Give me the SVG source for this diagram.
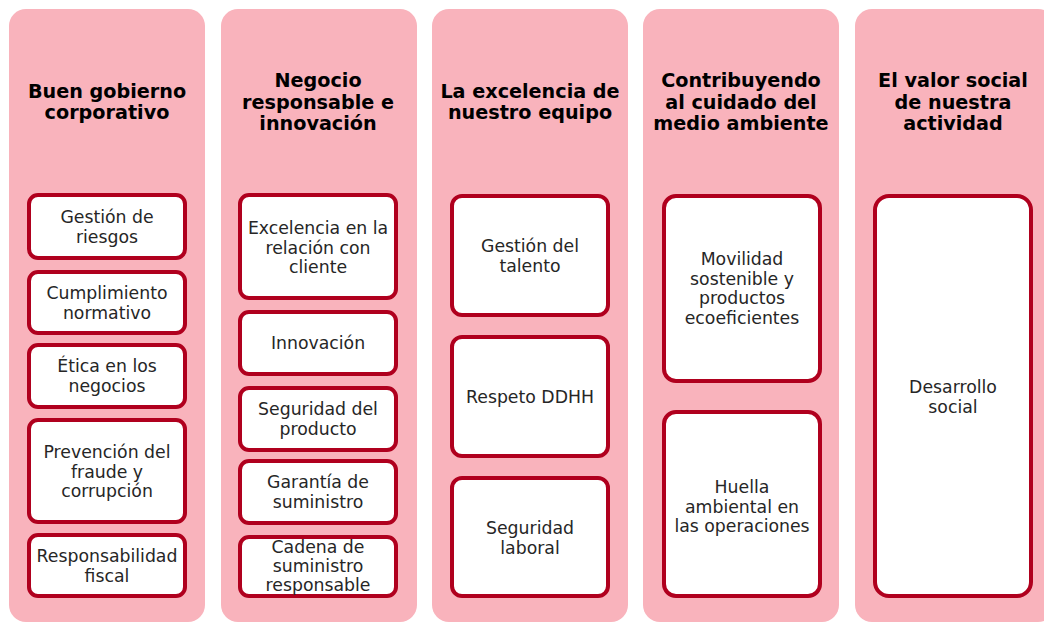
<svg xmlns="http://www.w3.org/2000/svg" width="1044" height="623" viewBox="0 0 1044 623">
<style>
.col{fill:#f9b3bc;}
.box{fill:#ffffff;stroke:#b0001e;stroke-width:4;}
.title{font-family:"DejaVu Sans",Verdana,sans-serif;font-weight:bold;font-size:19.2px;fill:#000000;text-anchor:middle;}
.lbl{font-family:"DejaVu Sans",Verdana,sans-serif;font-size:17.3px;fill:#262626;text-anchor:middle;}
</style>
<rect width="1044" height="623" fill="#ffffff"/>
<g id="col1">
<rect class="col" x="9" y="9" width="196" height="613" rx="17"/>
<text class="title" x="107" y="97.5">Buen gobierno</text>
<text class="title" x="107" y="119">corporativo</text>
</g>
<g id="col2">
<rect class="col" x="221" y="9" width="196" height="613" rx="17"/>
<text class="title" x="318" y="87">Negocio</text>
<text class="title" x="318" y="108.5">responsable e</text>
<text class="title" x="318" y="130">innovación</text>
</g>
<g id="col3">
<rect class="col" x="432" y="9" width="196" height="613" rx="17"/>
<text class="title" x="530" y="97.5">La excelencia de</text>
<text class="title" x="530" y="119">nuestro equipo</text>
</g>
<g id="col4">
<rect class="col" x="643" y="9" width="196" height="613" rx="17"/>
<text class="title" x="741" y="87">Contribuyendo</text>
<text class="title" x="741" y="108.5">al cuidado del</text>
<text class="title" x="741" y="130">medio ambiente</text>
</g>
<g id="col5">
<rect class="col" x="855" y="9" width="200" height="613" rx="17"/>
<text class="title" x="953" y="87">El valor social</text>
<text class="title" x="953" y="108.5">de nuestra</text>
<text class="title" x="953" y="130">actividad</text>
</g>
<g id="connectors"></g>
<g id="n-gestion-riesgos">
<rect class="box" x="29" y="195" width="156" height="63" rx="9"/>
<text class="lbl" x="107" y="223">Gestión de</text>
<text class="lbl" x="107" y="242.5">riesgos</text>
</g>
<g id="n-cumplimiento">
<rect class="box" x="29" y="272" width="156" height="61" rx="9"/>
<text class="lbl" x="107" y="299">Cumplimiento</text>
<text class="lbl" x="107" y="318.5">normativo</text>
</g>
<g id="n-etica">
<rect class="box" x="29" y="345" width="156" height="62" rx="9"/>
<text class="lbl" x="107" y="372">Ética en los</text>
<text class="lbl" x="107" y="391.5">negocios</text>
</g>
<g id="n-prevencion">
<rect class="box" x="29" y="420" width="156" height="102" rx="9"/>
<text class="lbl" x="107" y="458">Prevención del</text>
<text class="lbl" x="107" y="477.5">fraude y</text>
<text class="lbl" x="107" y="497">corrupción</text>
</g>
<g id="n-fiscal">
<rect class="box" x="29" y="535" width="156" height="61" rx="9"/>
<text class="lbl" x="107" y="562">Responsabilidad</text>
<text class="lbl" x="107" y="581.5">fiscal</text>
</g>
<g id="n-excelencia">
<rect class="box" x="240" y="195" width="156" height="103" rx="9"/>
<text class="lbl" x="318" y="234">Excelencia en la</text>
<text class="lbl" x="318" y="253.5">relación con</text>
<text class="lbl" x="318" y="273">cliente</text>
</g>
<g id="n-innovacion">
<rect class="box" x="240" y="312" width="156" height="62" rx="9"/>
<text class="lbl" x="318" y="349">Innovación</text>
</g>
<g id="n-seguridad-producto">
<rect class="box" x="240" y="388" width="156" height="62" rx="9"/>
<text class="lbl" x="318" y="415">Seguridad del</text>
<text class="lbl" x="318" y="434.5">producto</text>
</g>
<g id="n-garantia">
<rect class="box" x="240" y="461" width="156" height="62" rx="9"/>
<text class="lbl" x="318" y="488">Garantía de</text>
<text class="lbl" x="318" y="507.5">suministro</text>
</g>
<g id="n-cadena">
<rect class="box" x="240" y="537" width="156" height="59" rx="9"/>
<text class="lbl" x="318" y="553">Cadena de</text>
<text class="lbl" x="318" y="572">suministro</text>
<text class="lbl" x="318" y="591">responsable</text>
</g>
<g id="n-talento">
<rect class="box" x="452" y="196" width="156" height="119" rx="10"/>
<text class="lbl" x="530" y="252">Gestión del</text>
<text class="lbl" x="530" y="271.5">talento</text>
</g>
<g id="n-ddhh">
<rect class="box" x="452" y="337" width="156" height="119" rx="10"/>
<text class="lbl" x="530" y="403">Respeto DDHH</text>
</g>
<g id="n-seguridad-laboral">
<rect class="box" x="452" y="478" width="156" height="118" rx="10"/>
<text class="lbl" x="530" y="534">Seguridad</text>
<text class="lbl" x="530" y="553.5">laboral</text>
</g>
<g id="n-movilidad">
<rect class="box" x="664" y="196" width="156" height="185" rx="12"/>
<text class="lbl" x="742" y="265">Movilidad</text>
<text class="lbl" x="742" y="284.5">sostenible y</text>
<text class="lbl" x="742" y="304">productos</text>
<text class="lbl" x="742" y="323.5">ecoeficientes</text>
</g>
<g id="n-huella">
<rect class="box" x="664" y="412" width="156" height="184" rx="12"/>
<text class="lbl" x="742" y="493">Huella</text>
<text class="lbl" x="742" y="512.5">ambiental en</text>
<text class="lbl" x="742" y="532">las operaciones</text>
</g>
<g id="n-desarrollo">
<rect class="box" x="875" y="196" width="156" height="400" rx="14"/>
<text class="lbl" x="953" y="393">Desarrollo</text>
<text class="lbl" x="953" y="412.5">social</text>
</g>
</svg>
